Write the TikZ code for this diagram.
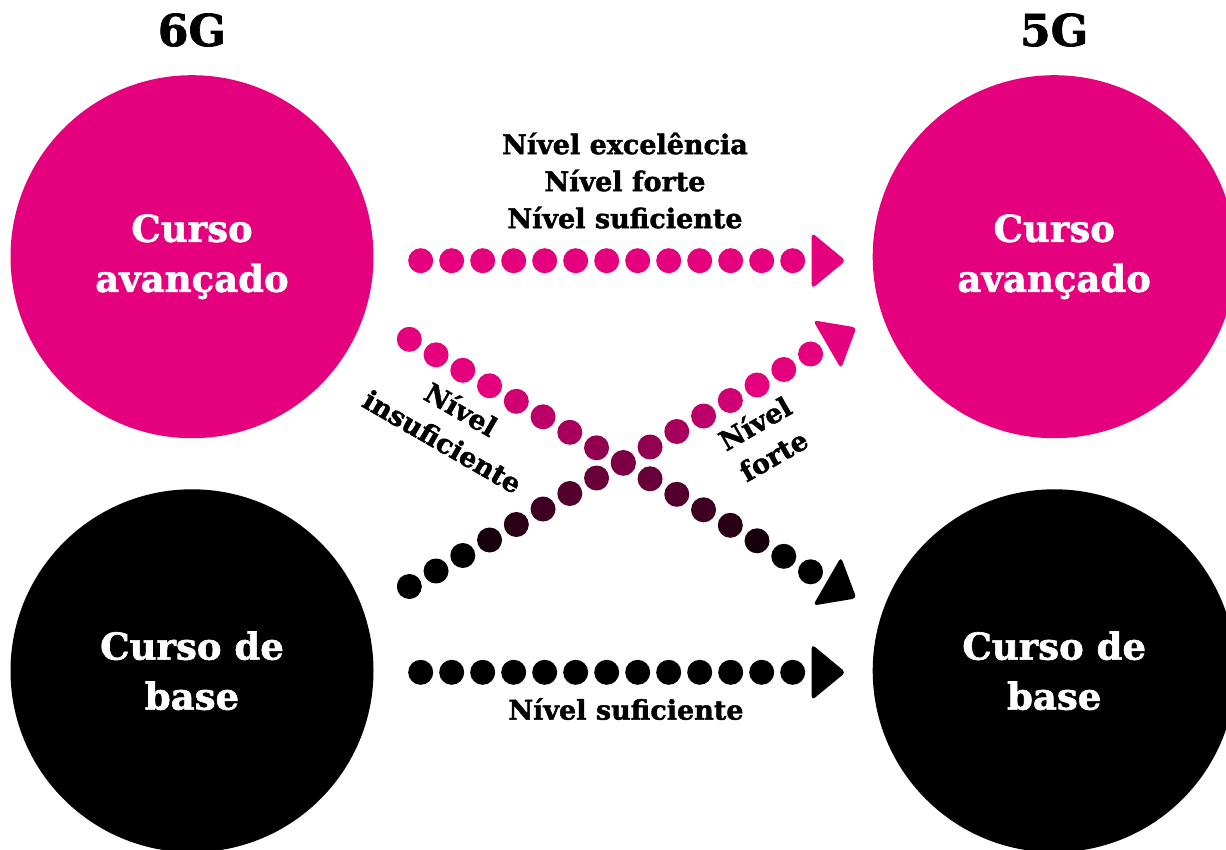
\documentclass[tikz,border=0pt]{standalone}
\usepackage{fontspec}
\setmainfont{DejaVu Serif}[BoldFont=DejaVu Serif Bold, BoldFeatures={FakeBold=1.6}]
\usetikzlibrary{calc}
\definecolor{pk}{RGB}{229,0,126}
\tikzset{
  bigcirc/.style={circle, minimum size=363pt, inner sep=0pt},
  circtext/.style={text=white, font=\bfseries\fontsize{37}{50}\selectfont, align=center},
  dotc/.style={circle, minimum size=25pt, inner sep=0pt},
  lbl/.style={font=\bfseries\fontsize{27}{37}\selectfont, align=center, inner sep=0pt},
  gtitle/.style={font=\bfseries\fontsize{44}{44}\selectfont, inner sep=0pt},
  headc/.style={rounded corners=4pt}
}
\begin{document}
\begin{tikzpicture}[x=1pt,y=-1pt]
\useasboundingbox (0,0) rectangle (1226,850);
\begin{scope}
\clip (0,0) rectangle (1226,850);
\node[bigcirc, fill=pk, circtext] (a6) at (192,256.7) {Curso\\avançado};
\node[bigcirc, fill=black, circtext] (b6) at (192,670.8) {Curso de\\base};
\node[bigcirc, fill=pk, circtext] (a5) at (1054.2,256.7) {Curso\\avançado};
\node[bigcirc, fill=black, circtext] (b5) at (1054.2,670.8) {Curso de\\base};
\end{scope}

\node[gtitle] (t6) at (192,30) {6G};
\node[gtitle] (t5) at (1054.2,30) {5G};

% horizontal rows
\coordinate (s1) at (420.7,260.7);
\coordinate (e1) at (792.7,260.7);
\coordinate (s2) at (420.7,672.3);
\coordinate (e2) at (792.7,672.3);
\foreach \i in {0,...,12}{
  \node[dotc, fill=pk] (pt\i) at ($(s1)!\i/12!(e1)$) {};
  \node[dotc, fill=black] (pb\i) at ($(s2)!\i/12!(e2)$) {};
}
\fill[pk, headc, shift={(e1)}] (19,-28) -- (53,0) -- (19,28) -- cycle;
\fill[black, headc, shift={(e2)}] (19,-28) -- (53,0) -- (19,28) -- cycle;

% diagonals
\coordinate (d0) at (409.3,339.3);
\coordinate (d15) at (810.55,571.8);
\coordinate (u0) at (409.3,586.5);
\coordinate (u15) at (810.55,354.0);
\foreach \i in {0,...,15}{
  \pgfmathsetmacro\pd{100*(1-min(1,max(0,(\i-3)/11)))}
  \node[dotc, fill=pk!\pd!black] (dd\i) at ($(d0)!\i/15!(d15)$) {};
}
\foreach \i in {0,...,15}{
  \pgfmathsetmacro\pu{100*min(1,max(0,(\i-2)/11))}
  \node[dotc, fill=pk!\pu!black] (du\i) at ($(u0)!\i/15!(u15)$) {};
}
\fill[black, headc, shift={(d15)}, rotate=-30] (19,-28) -- (53,0) -- (19,28) -- cycle;
\fill[pk, headc, shift={(u15)}, rotate=30] (19,-28) -- (53,0) -- (19,28) -- cycle;

% labels
\node[lbl] (ltop) at (625,180.5) {Nível excelência\\Nível forte\\Nível suficiente};
\node[lbl] (lbot) at (626,709) {Nível suficiente};
\node[lbl, rotate=-30] (lins) at (452,425) {Nível\\insuficiente};
\node[lbl, rotate=30] (lfor) at (764,439) {Nível\\forte};
\end{tikzpicture}
\end{document}
